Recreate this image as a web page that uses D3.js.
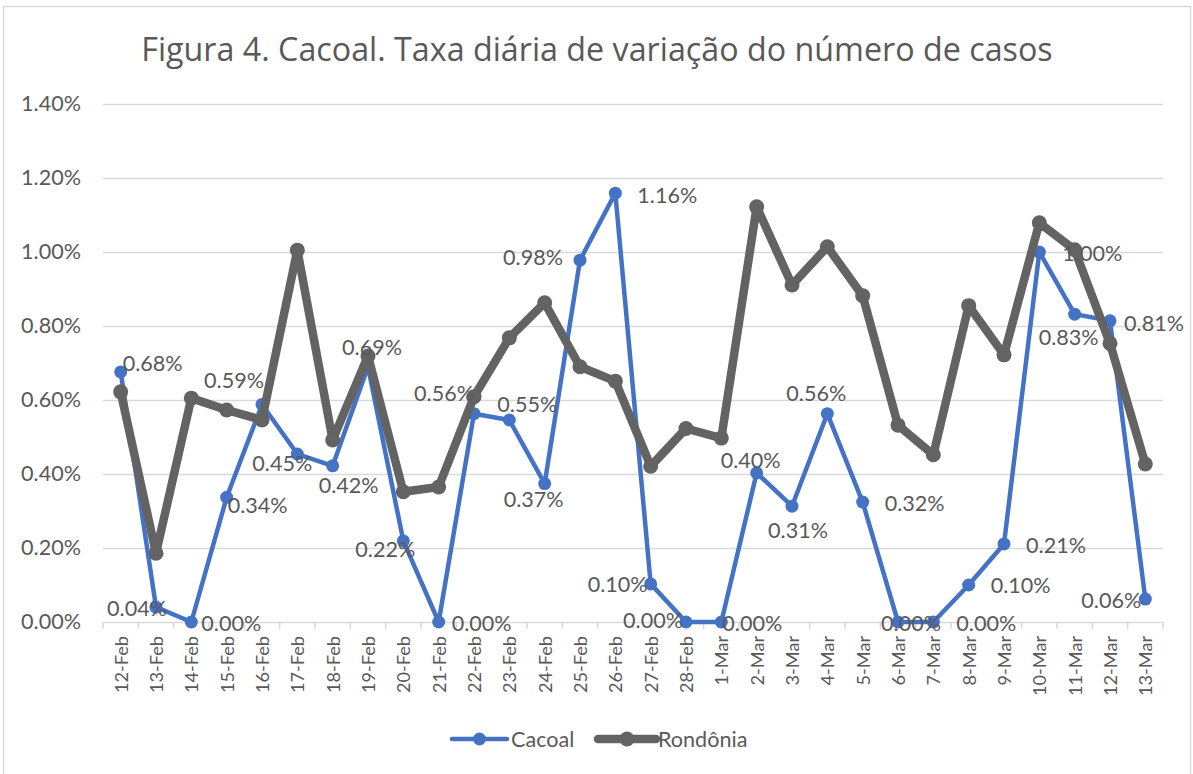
<!DOCTYPE html>
<html>
<head>
<meta charset="utf-8">
<script src="https://cdn.jsdelivr.net/npm/d3@7/dist/d3.min.js"></script>
<style>
  html, body { margin: 0; padding: 0; background: #fff; }
  svg { display: block; }
</style>
</head>
<body>
<svg id="chart" width="1193" height="774"></svg>
<script>
// ---- data ----
const titleText = "Figura 4. Cacoal. Taxa diária de variação do número de casos";
const categories = ["12-Feb","13-Feb","14-Feb","15-Feb","16-Feb","17-Feb","18-Feb","19-Feb","20-Feb","21-Feb",
  "22-Feb","23-Feb","24-Feb","25-Feb","26-Feb","27-Feb","28-Feb","1-Mar","2-Mar","3-Mar",
  "4-Mar","5-Mar","6-Mar","7-Mar","8-Mar","9-Mar","10-Mar","11-Mar","12-Mar","13-Mar"];
const seriesNames = ["Cacoal", "Rondônia"];
// values in percent
const cacoal = [0.676, 0.04, 0.00, 0.337, 0.588, 0.454, 0.422, 0.69, 0.219, 0.00,
  0.563, 0.546, 0.374, 0.978, 1.159, 0.103, 0.00, 0.00, 0.403, 0.313,
  0.563, 0.324, 0.00, 0.00, 0.10, 0.211, 1.00, 0.832, 0.814, 0.062];
const rondonia = [0.622, 0.186, 0.605, 0.573, 0.546, 1.005, 0.492, 0.719, 0.352, 0.365,
  0.609, 0.768, 0.863, 0.69, 0.651, 0.421, 0.523, 0.497, 1.122, 0.911,
  1.014, 0.882, 0.532, 0.452, 0.855, 0.722, 1.079, 1.006, 0.753, 0.427];
const yTicks = [0, 0.2, 0.4, 0.6, 0.8, 1.0, 1.2, 1.4];

// ---- style / label placement (offset of label centre from its point, px) ----
const labelOffsets = [[32,-9],[-19,1],[40,1],[31,8],[-28,-24],[-15,9],[16,19],[4,-20],[-18,8],[43,1],
  [-30,-21],[18,-16],[-11,15],[-47,-3],[52,2],[-33,0],[-33,-2],[31,1],[-6,-13],[6,24],
  [-11,-21],[52,1],[13,1],[53,1],[52,0],[52,1],[53,1],[-6,23],[44,2],[-34,1]];
const colors = { Cacoal: "#4472C4", "Rondônia": "#636363" };
const textColor = "#595959";
const gridColor = "#D9D9D9";
const FONT = "Lato, 'Open Sans', sans-serif";
const TITLE_FONT = "'Open Sans', sans-serif";

const svg = d3.select("#chart");
const plotL = 103, plotR = 1163, plotT = 104, plotB = 622;

// border
svg.append("rect").attr("x", 3.5).attr("y", 6.5).attr("width", 1187).attr("height", 800)
  .attr("fill", "#fff").attr("stroke", gridColor).attr("stroke-width", 1.5);

const x = d3.scaleBand().domain(categories).range([plotL, plotR]).padding(0);
const y = d3.scaleLinear().domain([0, 1.4]).range([plotB, plotT]);
const cx = d => x(d) + x.bandwidth() / 2;

// helper to fit font size to a target width
function fitSize(text, family, target, base) {
  const t = svg.append("text").attr("font-family", family).attr("font-size", base).text(text);
  const w = t.node().getComputedTextLength();
  t.remove();
  return base * target / w;
}
const labelSize = fitSize("0.68%", FONT, 60, 20);
const xTickSize = fitSize("12-Feb", FONT, 57, 18);
const titleSize = fitSize(titleText, TITLE_FONT, 912, 30);

// title
svg.append("text").attr("x", 597).attr("y", 48).attr("text-anchor", "middle")
  .attr("dominant-baseline", "central")
  .attr("font-family", TITLE_FONT).attr("font-size", titleSize).attr("fill", textColor)
  .text(titleText);

// gridlines
svg.append("g").selectAll("line").data(yTicks.slice(1)).join("line")
  .attr("x1", plotL).attr("x2", plotR)
  .attr("y1", d => Math.round(y(d)) + 0.5).attr("y2", d => Math.round(y(d)) + 0.5)
  .attr("stroke", gridColor).attr("stroke-width", 1.5);

// y axis labels
const yAxis = d3.axisLeft(y).tickValues(yTicks).tickSize(0).tickPadding(22)
  .tickFormat(d => d.toFixed(2) + "%");
const gy = svg.append("g").attr("transform", `translate(${plotL},0)`).call(yAxis);
gy.select(".domain").remove();
gy.selectAll("text").attr("font-family", FONT).attr("font-size", labelSize).attr("fill", textColor);

// x axis
const xAxis = d3.axisBottom(x).tickSize(0).tickPadding(0);
const gx = svg.append("g").attr("transform", `translate(0,${plotB})`).call(xAxis);
gx.select(".domain").attr("stroke", gridColor).attr("stroke-width", 1.5)
  .attr("d", `M${plotL},0.5H${plotR}`);
gx.selectAll("text")
  .attr("font-family", FONT).attr("font-size", xTickSize).attr("fill", textColor)
  .attr("text-anchor", "end").attr("dominant-baseline", "central")
  .attr("transform", "rotate(-90)").attr("x", -14).attr("y", 0).attr("dy", null);
// tick marks at band boundaries
const bounds = categories.map(c => x(c)).concat([plotR]);
gx.append("g").selectAll("line").data(bounds).join("line")
  .attr("x1", d => d).attr("x2", d => d).attr("y1", 0).attr("y2", 7)
  .attr("stroke", gridColor).attr("stroke-width", 1.5);

// lines
const line = d3.line().x((d, i) => cx(categories[i])).y(d => y(d));
const seriesData = [
  { name: "Cacoal", values: cacoal, width: 4.5, r: 6.5 },
  { name: "Rondônia", values: rondonia, width: 8.5, r: 7.5 }
];
seriesData.forEach(s => {
  const g = svg.append("g");
  g.append("path").datum(s.values).attr("d", line)
    .attr("fill", "none").attr("stroke", colors[s.name]).attr("stroke-width", s.width)
    .attr("stroke-linejoin", "round").attr("stroke-linecap", "round");
  g.selectAll("circle").data(s.values).join("circle")
    .attr("cx", (d, i) => cx(categories[i])).attr("cy", d => y(d)).attr("r", s.r)
    .attr("fill", colors[s.name]);
});

// data labels (Cacoal)
svg.append("g").selectAll("text").data(cacoal).join("text")
  .attr("x", (d, i) => cx(categories[i]) + labelOffsets[i][0])
  .attr("y", (d, i) => y(d) + labelOffsets[i][1])
  .attr("text-anchor", "middle").attr("dominant-baseline", "central")
  .attr("font-family", FONT).attr("font-size", labelSize).attr("fill", textColor)
  .text(d => d.toFixed(2) + "%");

// legend
const legendY = 739;
const legendItems = [
  { name: "Cacoal", x1: 452, x2: 507, tx: 511, width: 4.5, r: 6.5 },
  { name: "Rondônia", x1: 598, x2: 656, tx: 658, width: 8.5, r: 7.5 }
];
const lg = svg.append("g");
legendItems.forEach(it => {
  lg.append("line").attr("x1", it.x1).attr("x2", it.x2).attr("y1", legendY).attr("y2", legendY)
    .attr("stroke", colors[it.name]).attr("stroke-width", it.width).attr("stroke-linecap", "round");
  lg.append("circle").attr("cx", (it.x1 + it.x2) / 2).attr("cy", legendY).attr("r", it.r)
    .attr("fill", colors[it.name]);
  lg.append("text").attr("x", it.tx).attr("y", legendY).attr("dominant-baseline", "central")
    .attr("font-family", FONT).attr("font-size", labelSize).attr("fill", textColor).text(it.name);
});
</script>
</body>
</html>
